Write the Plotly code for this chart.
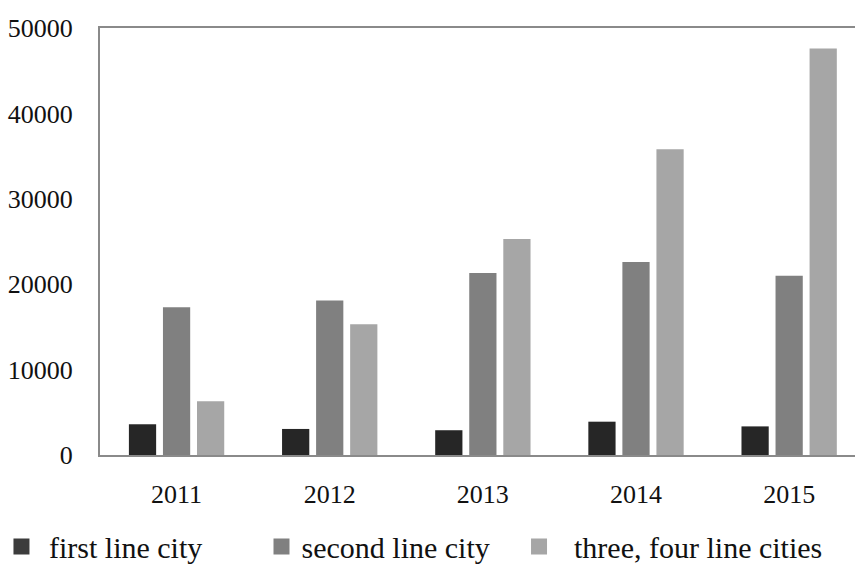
import plotly.graph_objects as go

years = ["2011", "2012", "2013", "2014", "2015"]
first_line = [3600, 3050, 2900, 3900, 3350]
second_line = [17300, 18100, 21300, 22600, 21000]
three_four_line = [6300, 15300, 25300, 35800, 47600]
y_ticks = [0, 10000, 20000, 30000, 40000, 50000]

series_names = ["first line city", "second line city", "three, four line cities"]
series_values = [first_line, second_line, three_four_line]
bar_colors = ["#262626", "#808080", "#a6a6a6"]
swatch_colors = ["#3c3c3c", "#808080", "#a6a6a6"]
name_pads = ["\u00a0", "", "\u00a0\u00a0"]
legend_ids = ["legend", "legend2", "legend3"]
legend_x = [-0.1305, 0.2139, 0.555]

fig = go.Figure()
for name, vals, col in zip(series_names, series_values, bar_colors):
    fig.add_trace(go.Bar(x=years, y=vals, name=name, showlegend=False,
                         marker=dict(color=col, line=dict(width=0))))
for name, col, pad, lid in zip(series_names, swatch_colors, name_pads, legend_ids):
    # legend-only entry with a larger square swatch
    fig.add_trace(go.Scatter(x=[None], y=[None], mode="markers", name=pad + name,
                             legend=lid,
                             marker=dict(symbol="square", size=16, color=col,
                                         line=dict(width=0)),
                             hoverinfo="skip"))

font = dict(family="Liberation Serif", size=26, color="#111111")
legend_font = dict(family="Liberation Serif", size=30, color="#111111")

legend_common = dict(orientation="h", xanchor="left", y=-0.214, yanchor="middle",
                     font=legend_font, bgcolor="rgba(0,0,0,0)", itemclick=False,
                     itemdoubleclick=False)

fig.update_layout(
    width=855, height=564,
    margin=dict(l=100, r=0, t=28, b=109, autoexpand=False),
    paper_bgcolor="white", plot_bgcolor="white",
    barmode="group", bargap=0.333, bargroupgap=0.2,
    font=font,
    showlegend=True,
    legend=dict(x=legend_x[0], **legend_common),
    legend2=dict(x=legend_x[1], **legend_common),
    legend3=dict(x=legend_x[2], **legend_common),
    xaxis=dict(range=[-0.5, 4.43], showline=True, linecolor="#8a8a8a", linewidth=2,
               mirror=True, showgrid=False, ticks="", ticklabelstandoff=15, tickfont=font),
    yaxis=dict(range=[0, 50000], tickvals=y_ticks, ticktext=[str(v) for v in y_ticks],
               showline=True, linecolor="#8a8a8a", linewidth=2, showgrid=False,
               zeroline=False, ticks="", ticklabelstandoff=20, tickfont=font),
)

fig.write_html(
    "out.html",
    config={"displayModeBar": False},
    post_script="document.body.style.margin='0';document.body.style.overflow='hidden';",
)
